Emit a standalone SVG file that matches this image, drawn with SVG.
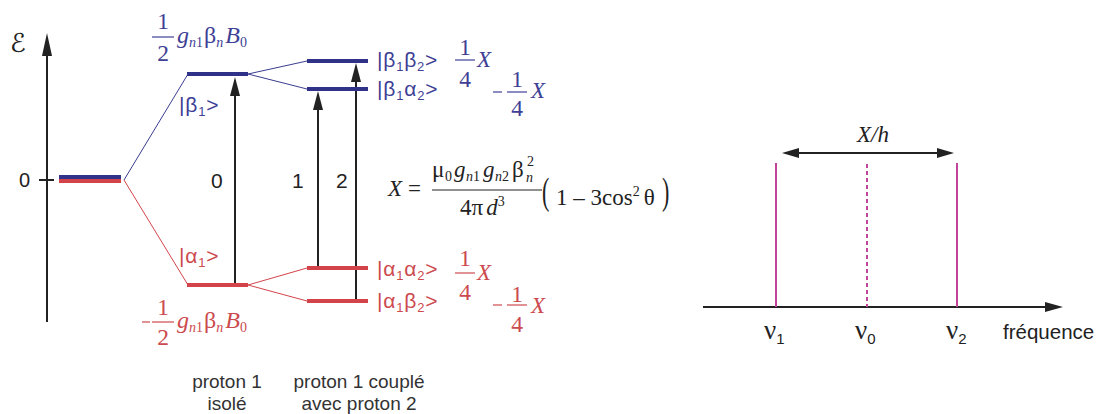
<svg xmlns="http://www.w3.org/2000/svg" width="1098" height="414" viewBox="0 0 1098 414">
<style>
.ax{stroke:#222;stroke-width:2;fill:none}
.ah{fill:#222}
.bl{stroke:#2f3288;stroke-width:4}
.rl{stroke:#d2444a;stroke-width:4}
.bt{stroke:#3a3c90;stroke-width:1}
.rt{stroke:#d2444a;stroke-width:1}
.sans{font-family:"Liberation Sans",Arial,sans-serif}
.ser{font-family:"Liberation Serif","Times New Roman",serif}
.it{font-style:italic}
.btx{fill:#3e3f95}
.rtx{fill:#cc4a4e}
.k{fill:#222}
.mg{stroke:#c0449a;stroke-width:2}
.ket{font-size:21px;letter-spacing:0.8px}
.frac{font-size:23.5px}
</style>

<g id="energy-axis">
<line class="ax" x1="47" y1="322" x2="47" y2="48"/>
<path class="ah" d="M47,33 L52,56 L42,56 Z"/>
<line class="ax" x1="39" y1="180" x2="54" y2="180"/>
<text class="sans k" x="19" y="187" font-size="20">0</text>
<text x="10" y="52" font-size="26" font-style="italic" font-family="DejaVu Serif,DejaVu Sans,serif" fill="#222">ℰ</text>
</g>

<g id="connectors">
<line class="bt" x1="124" y1="180" x2="188" y2="74"/>
<line class="rt" x1="124" y1="180" x2="188" y2="285"/>
<line class="bt" x1="248" y1="74" x2="307" y2="61"/>
<line class="bt" x1="248" y1="74" x2="307" y2="89"/>
<line class="rt" x1="248" y1="285" x2="307" y2="268"/>
<line class="rt" x1="248" y1="285" x2="307" y2="301"/>
<line class="ax" x1="235" y1="285" x2="235" y2="92"/>
<path class="ah" d="M235,77 L240,96 L230,96 Z"/>
<line class="ax" x1="318" y1="268" x2="318" y2="105"/>
<path class="ah" d="M318,91 L323,110 L313,110 Z"/>
<line class="ax" x1="356" y1="301" x2="356" y2="78"/>
<path class="ah" d="M356,63 L361,82 L351,82 Z"/>
</g>

<g id="transition-labels">
<text class="sans k" x="211" y="188" font-size="21">0</text>
<text class="sans k" x="292" y="188" font-size="21">1</text>
<text class="sans k" x="336" y="188" font-size="21">2</text>
</g>

<g id="level-0">
<line class="bl" x1="59" y1="177" x2="121" y2="177"/>
<line class="rl" x1="59" y1="181" x2="121" y2="181"/>
</g>

<g id="level-beta1">
<line class="bl" x1="187" y1="74" x2="248" y2="74"/>
<text class="sans btx ket" x="179" y="112">|β<tspan font-size="13" dy="4">1</tspan><tspan dy="-4">&gt;</tspan></text>
<text class="ser btx frac" x="163" y="29" text-anchor="middle">1</text>
<line x1="152" y1="37" x2="174" y2="37" stroke="#3e3f95" stroke-width="1.2"/>
<text class="ser btx frac" x="163" y="61" text-anchor="middle">2</text>
<text class="ser btx" x="177" y="43" font-size="24"><tspan class="it">g</tspan><tspan class="it" font-size="14" dy="4">n</tspan><tspan font-size="14">1</tspan><tspan dy="-4" dx="1">β</tspan><tspan class="it" font-size="14" dy="4">n</tspan><tspan class="it" dy="-4" dx="2">B</tspan><tspan font-size="14" dy="4">0</tspan></text>
</g>

<g id="level-alpha1">
<line class="rl" x1="187" y1="285" x2="248" y2="285"/>
<text class="sans rtx ket" x="179" y="263">|α<tspan font-size="13" dy="4">1</tspan><tspan dy="-4">&gt;</tspan></text>
<line x1="142" y1="322" x2="150" y2="322" stroke="#cc4a4e" stroke-width="1.2"/>
<text class="ser rtx frac" x="163" y="315" text-anchor="middle">1</text>
<line x1="152" y1="322" x2="174" y2="322" stroke="#cc4a4e" stroke-width="1.2"/>
<text class="ser rtx frac" x="163" y="345" text-anchor="middle">2</text>
<text class="ser rtx" x="177" y="328" font-size="24"><tspan class="it">g</tspan><tspan class="it" font-size="14" dy="4">n</tspan><tspan font-size="14">1</tspan><tspan dy="-4" dx="1">β</tspan><tspan class="it" font-size="14" dy="4">n</tspan><tspan class="it" dy="-4" dx="2">B</tspan><tspan font-size="14" dy="4">0</tspan></text>
</g>

<g id="level-beta1beta2">
<line class="bl" x1="307" y1="61" x2="368" y2="61"/>
<text class="sans btx ket" x="377" y="67">|β<tspan font-size="13" dy="4">1</tspan><tspan dy="-4">β</tspan><tspan font-size="13" dy="4">2</tspan><tspan dy="-4">&gt;</tspan></text>
<text class="ser btx frac" x="465" y="55" text-anchor="middle">1</text>
<line x1="455" y1="60" x2="475" y2="60" stroke="#3e3f95" stroke-width="1.2"/>
<text class="ser btx frac" x="465" y="87" text-anchor="middle">4</text>
<text class="ser it btx" x="477" y="67" font-size="23">X</text>
</g>

<g id="level-beta1alpha2">
<line class="bl" x1="307" y1="89" x2="368" y2="89"/>
<text class="sans btx ket" x="377" y="96">|β<tspan font-size="13" dy="4">1</tspan><tspan dy="-4">α</tspan><tspan font-size="13" dy="4">2</tspan><tspan dy="-4">&gt;</tspan></text>
<line x1="493" y1="92" x2="502" y2="92" stroke="#3e3f95" stroke-width="1.2"/>
<text class="ser btx frac" x="517" y="87" text-anchor="middle">1</text>
<line x1="507" y1="92" x2="527" y2="92" stroke="#3e3f95" stroke-width="1.2"/>
<text class="ser btx frac" x="517" y="116" text-anchor="middle">4</text>
<text class="ser it btx" x="531" y="98" font-size="23">X</text>
</g>

<g id="level-alpha1alpha2">
<line class="rl" x1="307" y1="268" x2="368" y2="268"/>
<text class="sans rtx ket" x="377" y="276">|α<tspan font-size="13" dy="4">1</tspan><tspan dy="-4">α</tspan><tspan font-size="13" dy="4">2</tspan><tspan dy="-4">&gt;</tspan></text>
<text class="ser rtx frac" x="465" y="266" text-anchor="middle">1</text>
<line x1="455" y1="273" x2="475" y2="273" stroke="#cc4a4e" stroke-width="1.2"/>
<text class="ser rtx frac" x="465" y="300" text-anchor="middle">4</text>
<text class="ser it rtx" x="477" y="280" font-size="23">X</text>
</g>

<g id="level-alpha1beta2">
<line class="rl" x1="307" y1="301" x2="368" y2="301"/>
<text class="sans rtx ket" x="377" y="308">|α<tspan font-size="13" dy="4">1</tspan><tspan dy="-4">β</tspan><tspan font-size="13" dy="4">2</tspan><tspan dy="-4">&gt;</tspan></text>
<line x1="493" y1="305" x2="502" y2="305" stroke="#cc4a4e" stroke-width="1.2"/>
<text class="ser rtx frac" x="517" y="302" text-anchor="middle">1</text>
<line x1="507" y1="305" x2="527" y2="305" stroke="#cc4a4e" stroke-width="1.2"/>
<text class="ser rtx frac" x="517" y="332" text-anchor="middle">4</text>
<text class="ser it rtx" x="531" y="313" font-size="23">X</text>
</g>

<g id="formula" fill="#222" class="ser">
<text class="it" x="388" y="196" font-size="23">X</text>
<text x="408" y="196" font-size="23">=</text>
<text x="432" y="177" font-size="23">μ</text>
<text x="445" y="181" font-size="14">0</text>
<text class="it" x="454" y="177" font-size="23">g</text>
<text x="466" y="181" font-size="14"><tspan class="it">n</tspan>1</text>
<text class="it" x="483" y="177" font-size="23">g</text>
<text x="495" y="181" font-size="14"><tspan class="it">n</tspan>2</text>
<text x="512" y="177" font-size="23">β</text>
<text class="it" x="526" y="182" font-size="14">n</text>
<text x="527" y="166" font-size="14">2</text>
<line x1="432" y1="190" x2="542" y2="190" stroke="#222" stroke-width="1"/>
<text x="460" y="215" font-size="23">4π<tspan class="it" dx="3">d</tspan><tspan font-size="14" dy="-9">3</tspan></text>
<text x="542" y="204" font-size="22" transform="translate(0,-142.8) scale(1,1.7)">(</text>
<text x="556" y="205" font-size="23">1 – 3cos<tspan font-size="14" dy="-9">2</tspan><tspan dy="9" dx="4">θ</tspan></text>
<text x="662" y="204" font-size="22" transform="translate(0,-142.8) scale(1,1.7)">)</text>
</g>

<g id="captions" class="sans" fill="#333" font-size="19" text-anchor="middle">
<text x="227" y="388">proton 1</text>
<text x="227" y="410">isolé</text>
<text x="359" y="388">proton 1 couplé</text>
<text x="359" y="410">avec proton 2</text>
</g>

<g id="spectrum">
<line class="ax" x1="703" y1="307" x2="1048" y2="307"/>
<path class="ah" d="M1063,307 L1045,302 L1045,312 Z"/>
<line class="mg" x1="776" y1="163" x2="776" y2="307"/>
<line class="mg" x1="957" y1="163" x2="957" y2="307"/>
<line class="mg" x1="867" y1="164" x2="867" y2="307" stroke-dasharray="4,3"/>
<line class="ax" x1="796" y1="153" x2="940" y2="153"/>
<path class="ah" d="M782,153 L799,148 L799,158 Z"/>
<path class="ah" d="M954,153 L937,148 L937,158 Z"/>
<text class="ser it" x="873" y="142" font-size="23" text-anchor="middle" fill="#222">X/h</text>
<text class="ser" x="764" y="339" font-size="27" fill="#222">ν<tspan class="sans" font-size="15" dy="5">1</tspan></text>
<text class="ser" x="855" y="339" font-size="27" fill="#222">ν<tspan class="sans" font-size="15" dy="5">0</tspan></text>
<text class="ser" x="946" y="339" font-size="27" fill="#222">ν<tspan class="sans" font-size="15" dy="5">2</tspan></text>
<text class="sans" x="1003" y="339" font-size="20.5" fill="#222">fréquence</text>
</g>
</svg>
